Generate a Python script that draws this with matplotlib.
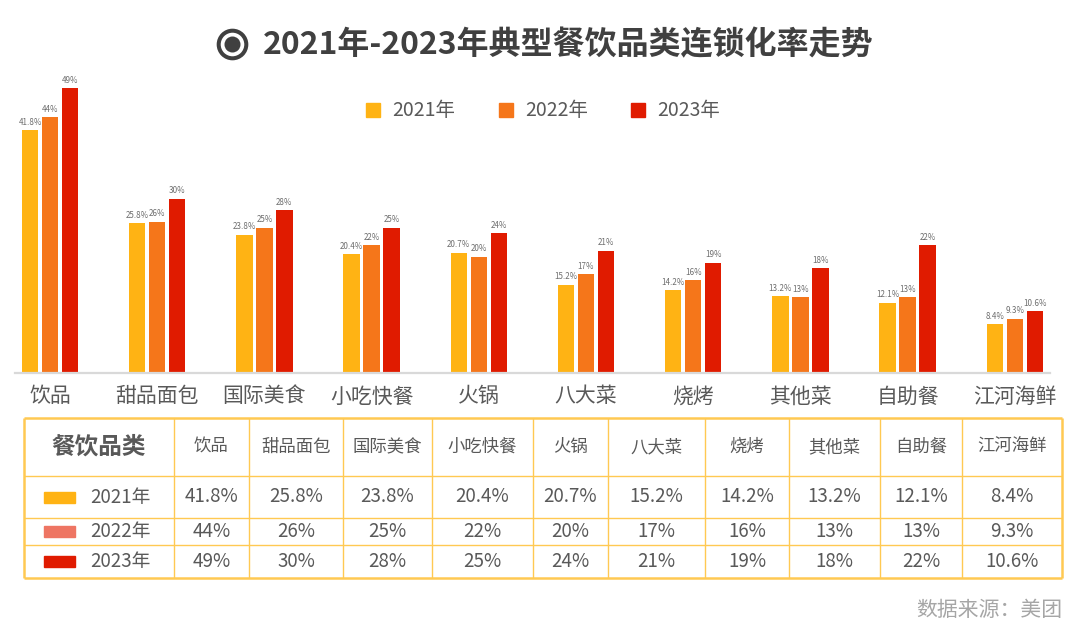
import matplotlib
matplotlib.use("Agg")
import matplotlib.pyplot as plt
from matplotlib.patches import Rectangle, Circle

plt.rcParams['font.family'] = ['Noto Sans CJK SC', 'DejaVu Sans']

categories = ['饮品', '甜品面包', '国际美食', '小吃快餐', '火锅', '八大菜', '烧烤', '其他菜', '自助餐', '江河海鲜']
years = ['2021年', '2022年', '2023年']
v2021 = [41.8, 25.8, 23.8, 20.4, 20.7, 15.2, 14.2, 13.2, 12.1, 8.4]
v2022 = [44, 26, 25, 22, 20, 17, 16, 13, 13, 9.3]
v2023 = [49, 30, 28, 25, 24, 21, 19, 18, 22, 10.6]
series = [v2021, v2022, v2023]

bar_colors = ['#FFB314', '#F5761A', '#E01B00']
swatch_colors = ['#FFB314', '#EE7563', '#E01B00']
text_color = '#595959'
grid_color = '#FFC952'

W, H = 1080, 637
fig = plt.figure(figsize=(W / 100, H / 100), dpi=100)

def fx(px):
    return px / W

def fy(py):
    return 1 - py / H

# ---- bar axes ----
spacing = 107.2
c0 = 50
xl, xr = -0.33, 9.33
left_px = c0 + xl * spacing
width_px = (xr - xl) * spacing
base_px, top_px = 373, 62
ax = fig.add_axes([fx(left_px), fy(base_px), width_px / W, (base_px - top_px) / H])
ax.set_xlim(xl, xr)
ax.set_ylim(0, 53.5)

bw = 0.154
off = 0.1865
x = list(range(len(categories)))
for i, (vals, col) in enumerate(zip(series, bar_colors)):
    xs = [xi + (i - 1) * off for xi in x]
    bars = ax.bar(xs, vals, width=bw, color=col, edgecolor='none', zorder=2)
    ax.bar_label(bars, labels=[f"{v:g}%" for v in vals], padding=2.5,
                 fontsize=5.8, color='#6e6e6e')

for s in ['top', 'left', 'right']:
    ax.spines[s].set_visible(False)
ax.spines['bottom'].set_color('#d9d9d9')
ax.spines['bottom'].set_linewidth(1.6)
ax.set_yticks([])
ax.set_xticks(x)
ax.set_xticklabels(categories, fontsize=15, color=text_color)
ax.tick_params(axis='x', length=0, pad=9)

# ---- overlay for title, legend, table ----
ov = fig.add_axes([0, 0, 1, 1], zorder=5)
ov.set_xlim(0, W)
ov.set_ylim(H, 0)
ov.axis('off')
ov.patch.set_alpha(0)

# title icon: ring with centre dot
ov.add_patch(Circle((232.5, 44.5), 13.8, facecolor='none', edgecolor='#404040', lw=2.9))
ov.add_patch(Circle((232.5, 44.5), 8, facecolor='#404040', edgecolor='none'))
ov.text(263, 45, '2021年-2023年典型餐饮品类连锁化率走势', fontsize=23,
        fontweight='bold', color='#404040', ha='left', va='center')

# legend
leg_x = [366, 499, 631]
for lx, yr, col in zip(leg_x, years, bar_colors):
    ov.add_patch(Rectangle((lx, 103), 14, 14, color=col))
    ov.text(lx + 26, 110, yr, fontsize=14, color=text_color, ha='left', va='center')

# table
cols = [24, 174, 249, 343, 432, 533, 608, 705, 789, 880, 962, 1062]
rows = [418, 476, 518, 545, 578]
for i, yy in enumerate(rows):
    lw = 1.8 if i in (0, len(rows) - 1) else 1.0
    ov.plot([cols[0], cols[-1]], [yy, yy], color=grid_color, lw=lw, solid_capstyle='butt')
for j, xx in enumerate(cols):
    lw = 1.8 if j in (0, len(cols) - 1) else 1.0
    ov.plot([xx, xx], [rows[0], rows[-1]], color=grid_color, lw=lw, solid_capstyle='butt')

rc = [(rows[k] + rows[k + 1]) / 2 for k in range(len(rows) - 1)]
cc = [(cols[k] + cols[k + 1]) / 2 for k in range(len(cols) - 1)]

ov.text(cc[0], rc[0], '餐饮品类', fontsize=17, fontweight='bold', color=text_color,
        ha='center', va='center')
for j, cat in enumerate(categories):
    ov.text(cc[j + 1], rc[0], cat, fontsize=12.5, color=text_color, ha='center', va='center')

for r, (yr, vals, sc) in enumerate(zip(years, series, swatch_colors)):
    yc = rc[r + 1]
    ov.add_patch(Rectangle((44, yc - 5.5), 31, 11, color=sc))
    ov.text(120, yc, yr, fontsize=13.5, color=text_color, ha='center', va='center')
    for j, v in enumerate(vals):
        ov.text(cc[j + 1], yc, f"{v:g}%", fontsize=13.5, color=text_color,
                ha='center', va='center')

ov.text(1062, 610, '数据来源：美团', fontsize=15, color='#a6a6a6', ha='right', va='center')

fig.savefig('out.png', dpi=100)
